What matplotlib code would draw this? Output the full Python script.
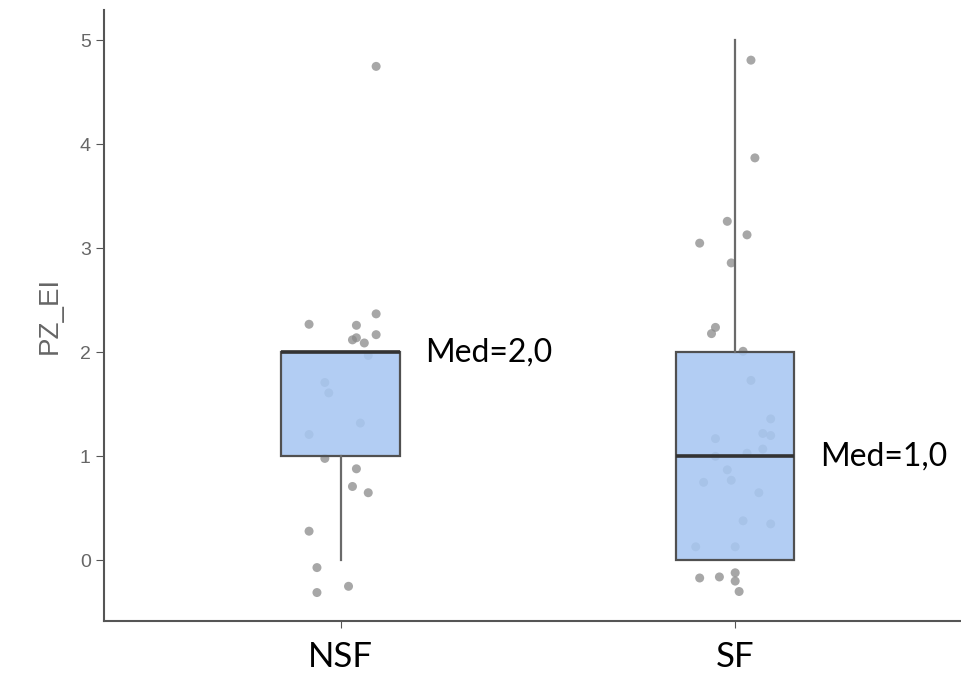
import matplotlib
matplotlib.use("Agg")
import matplotlib.pyplot as plt

# groups and box statistics
groups = ["NSF", "SF"]
q1 = [1.0, 0.0]
med = [2.0, 1.0]
q3 = [2.0, 2.0]
whislo = [0.0, 0.0]
whishi = [2.0, 5.0]
med_labels = ["Med=2,0", "Med=1,0"]

# jittered raw points (x offset from group centre, value)
nsf_dx = [-0.08, 0.09, 0.04, 0.09, 0.03, 0.06, 0.04, 0.07, -0.04, -0.03, 0.05, -0.08, -0.04, 0.04, 0.03, 0.07, -0.08, -0.06, 0.02, -0.06, 0.09]
nsf_y = [2.27, 2.37, 2.26, 2.17, 2.12, 2.09, 2.14, 1.97, 1.71, 1.61, 1.32, 1.21, 0.98, 0.88, 0.71, 0.65, 0.28, -0.07, -0.25, -0.31, 4.75]
sf_dx = [0.04, 0.05, -0.02, 0.03, -0.09, -0.01, -0.05, -0.06, 0.02, 0.04, 0.09, 0.07, 0.09, -0.05, 0.07, 0.03, -0.05, -0.02, -0.01, -0.08, 0.06,
         0.02, 0.09, -0.10, 0.0, -0.09, -0.04, 0.0, 0.0, 0.01]
sf_y = [4.81, 3.87, 3.26, 3.13, 3.05, 2.86, 2.24, 2.18, 2.01, 1.73, 1.36, 1.22, 1.20, 1.17, 1.07, 1.03, 1.00, 0.87, 0.77, 0.75, 0.65,
        0.38, 0.35, 0.13, 0.13, -0.17, -0.16, -0.12, -0.20, -0.30]

fig = plt.figure(figsize=(9.62, 6.82), dpi=100)
ax = fig.add_axes([0.108, 0.09, 0.89, 0.895])

# points first, box on top with a see-through fill
ax.scatter([1 + d for d in nsf_dx], nsf_y, s=42, color="#8a8a8a", alpha=0.75, edgecolors="none", zorder=1)
ax.scatter([2 + d for d in sf_dx], sf_y, s=42, color="#8a8a8a", alpha=0.75, edgecolors="none", zorder=1)

stats = []
for i in range(len(groups)):
    stats.append({"q1": q1[i], "med": med[i], "q3": q3[i],
                  "whislo": whislo[i], "whishi": whishi[i], "fliers": []})
bp = ax.bxp(stats, positions=[1, 2], widths=0.30, patch_artist=True, showfliers=False,
            showcaps=False, zorder=2,
            boxprops=dict(facecolor=(0.66, 0.78, 0.95, 0.88), edgecolor="#505050", linewidth=1.6),
            whiskerprops=dict(color="#6a6a6a", linewidth=1.6),
            medianprops=dict(color="#333333", linewidth=2.6))

for i in range(len(groups)):
    ax.text(i + 1 + 0.215, med[i], med_labels[i], fontsize=23, family="Lato",
            ha="left", va="center", color="black")

ax.set_xlim(0.40, 2.57)
ax.set_ylim(-0.58, 5.29)
ax.set_xticks([1, 2])
ax.set_xticklabels(groups, fontsize=25, family="Lato", color="black")
ax.set_yticks([0, 1, 2, 3, 4, 5])
ax.tick_params(axis="y", labelsize=14, labelcolor="#666666", color="#555555", length=6)
ax.tick_params(axis="x", color="#555555", length=5, pad=10)
for lab in ax.get_yticklabels():
    lab.set_family("Liberation Sans")
ax.set_ylabel("PZ_EI", fontsize=20, color="#666666", labelpad=12, family="Liberation Sans")

for s in ["top", "right"]:
    ax.spines[s].set_visible(False)
for s in ["left", "bottom"]:
    ax.spines[s].set_color("#555555")
    ax.spines[s].set_linewidth(1.5)

fig.savefig("out.png", dpi=100)
